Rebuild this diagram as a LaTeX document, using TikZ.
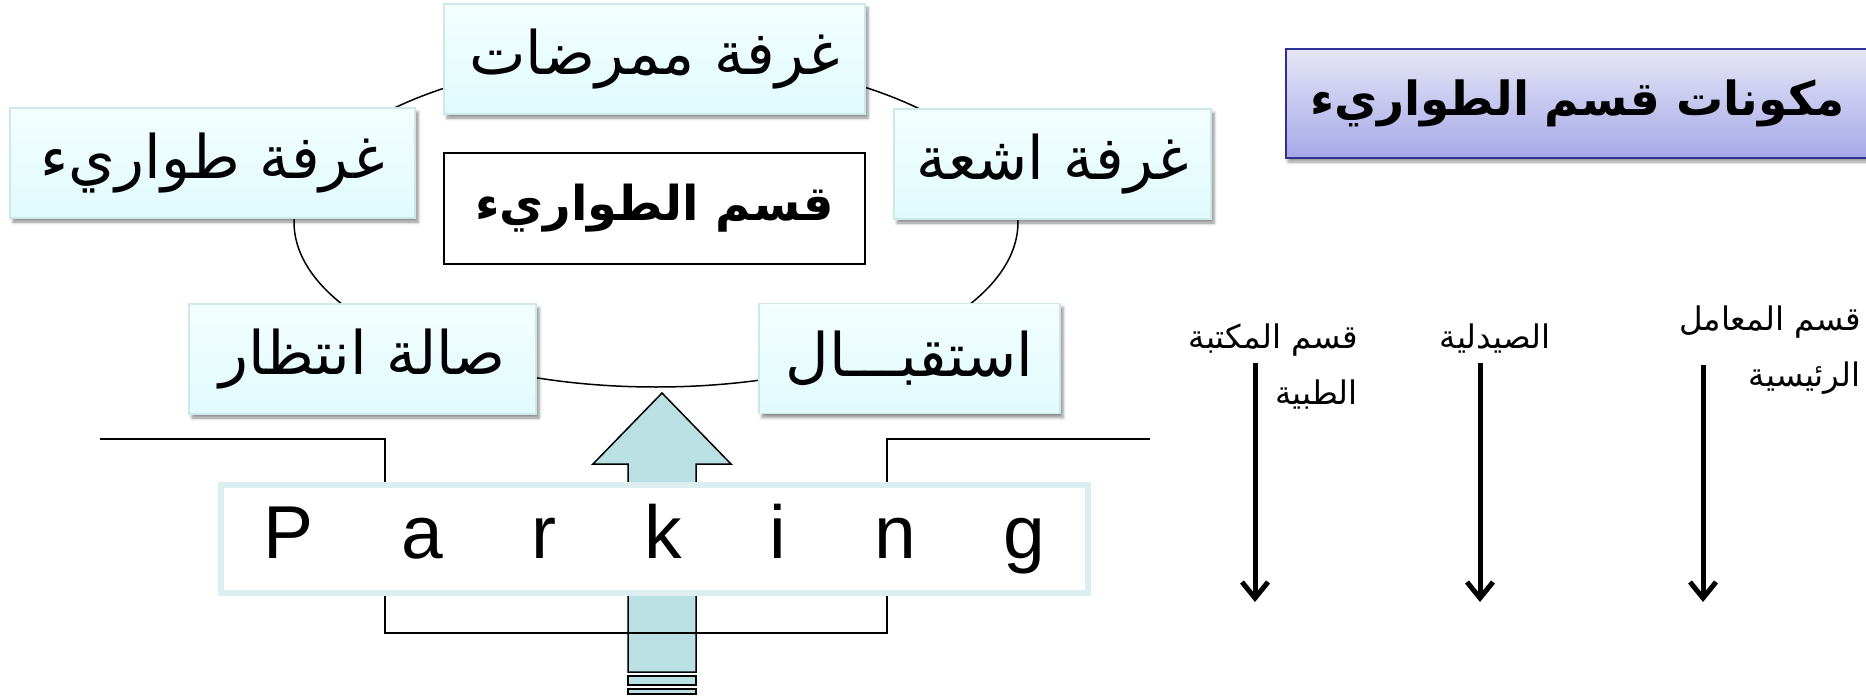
\documentclass[tikz,border=0pt]{standalone}
\usepackage{fontspec}
\setmainfont{Liberation Sans}
\newfontfamily\arabicfont[Script=Arabic]{DejaVu Sans}
\TeXXeTstate=1
\usetikzlibrary{positioning,arrows.meta,shadows.blur}

\definecolor{roomtop}{RGB}{243,254,254}
\definecolor{roombot}{RGB}{224,251,253}
\definecolor{roomline}{RGB}{206,231,233}
\definecolor{titletop}{RGB}{230,230,247}
\definecolor{titlebot}{RGB}{166,168,231}
\definecolor{titleline}{RGB}{46,49,146}
\definecolor{parkline}{RGB}{220,238,240}
\definecolor{arrowfill}{RGB}{187,224,227}

\newcommand\roomfont{\arabicfont\fontsize{60}{68}\selectfont}
\newcommand\deptfont{\arabicfont\bfseries\fontsize{48}{56}\selectfont}
\newcommand\titlefont{\arabicfont\bfseries\fontsize{47}{56}\selectfont}
\newcommand\smallfont{\arabicfont\fontsize{32.5}{56}\selectfont}
\newcommand\parkfont{\fontsize{75}{90}\selectfont\spaceskip=88pt\relax}

\begin{document}
\begin{tikzpicture}[
    x=1pt, y=-1pt,
    room/.style={draw=roomline, line width=1.5pt, top color=roomtop, bottom color=roombot, minimum height=110pt, inner sep=0pt, font=\roomfont,
        blur shadow={shadow xshift=3pt, shadow yshift=-4pt, shadow blur radius=3pt, shadow opacity=45}},
    deptbox/.style={draw, line width=2pt, fill=white, minimum width=421pt, minimum height=111pt, inner sep=0pt, font=\deptfont},
    titlebox/.style={draw=titleline, line width=2pt, top color=titletop, bottom color=titlebot, text width=580pt, align=left, minimum height=109pt, inner xsep=24pt, inner ysep=0pt, font=\titlefont,
        blur shadow={shadow xshift=2pt, shadow yshift=-4pt, shadow blur radius=3pt, shadow opacity=40}},
    parkbox/.style={draw=parkline, line width=6pt, fill=white, minimum width=867pt, minimum height=108pt, inner sep=0pt, font=\parkfont},
    ring/.style={line width=1.5pt},
    road/.style={line width=2pt},
    uparrow/.style={draw, line width=1.5pt, fill=arrowfill},
    downarrow/.style={line width=5pt, -{Straight Barb[length=16pt, width=26pt]}},
    lbl/.style={font=\smallfont, align=right, inner sep=0pt}
]
\useasboundingbox (0,0) rectangle (1866,698);
\clip (0,0) rectangle (1866,698);

% ===== Ring of rooms =====
\draw[ring] (656,222) ellipse [x radius=362pt, y radius=165pt];

\node[room, minimum width=421pt] (nurse) at (654.5,59) {\beginR غرفة ممرضات\endR};
\node[room, minimum width=405pt] (erroom) at (212.5,163) {\beginR غرفة طواريء\endR};
\node[room, minimum width=317pt] (xray) at (1052.5,164) {\beginR غرفة اشعة\endR};
\node[room, minimum width=347pt] (wait) at (362.5,359) {\beginR صالة انتظار\endR};
\node[room, minimum width=301pt] (recep) at (909.5,358.5) {\beginR استقبـــال\endR};

% ===== Department (centre) =====
\node[deptbox] (dept) at (654.5,208.5) {\beginR قسم الطواريء\endR};

% ===== Entrance arrow =====
\draw[uparrow] (628,672) -- (628,464) -- (593,464) -- (662,393) -- (731,464) -- (696,464) -- (696,672) -- cycle;
\draw[uparrow] (628,676) rectangle (696,685);
\draw[uparrow] (628,689) rectangle (696,694);

% ===== Road =====
\draw[road] (100,439) -- (385,439) -- (385,633) -- (887,633) -- (887,439) -- (1150,439);

% ===== Parking =====
\node[parkbox] (park) at (654.5,539) {P a r k i n g};

% ===== Title =====
\node[titlebox, anchor=west] (title) at (1285,103.5) {\beginR مكونات قسم الطواريء\endR};

% ===== Other departments =====
\coordinate (libtop) at (1255,363);
\coordinate (libend) at (1255,602);
\coordinate (phartop) at (1480,363);
\coordinate (pharend) at (1480,602);
\coordinate (labtop) at (1703,365);
\coordinate (labend) at (1703,602);

\draw[downarrow] (libtop) -- (libend);
\draw[downarrow] (phartop) -- (pharend);
\draw[downarrow] (labtop) -- (labend);

\node[lbl, anchor=north east] (lib) at (1358,324) {\beginR قسم المكتبة\endR\\\beginR الطبية\endR};
\node[lbl, anchor=north east] (phar) at (1551,324) {\beginR الصيدلية\endR};
\node[lbl, anchor=north east] (lab) at (1861,306) {\beginR قسم المعامل\endR\\\beginR الرئيسية\endR};

\end{tikzpicture}
\end{document}
